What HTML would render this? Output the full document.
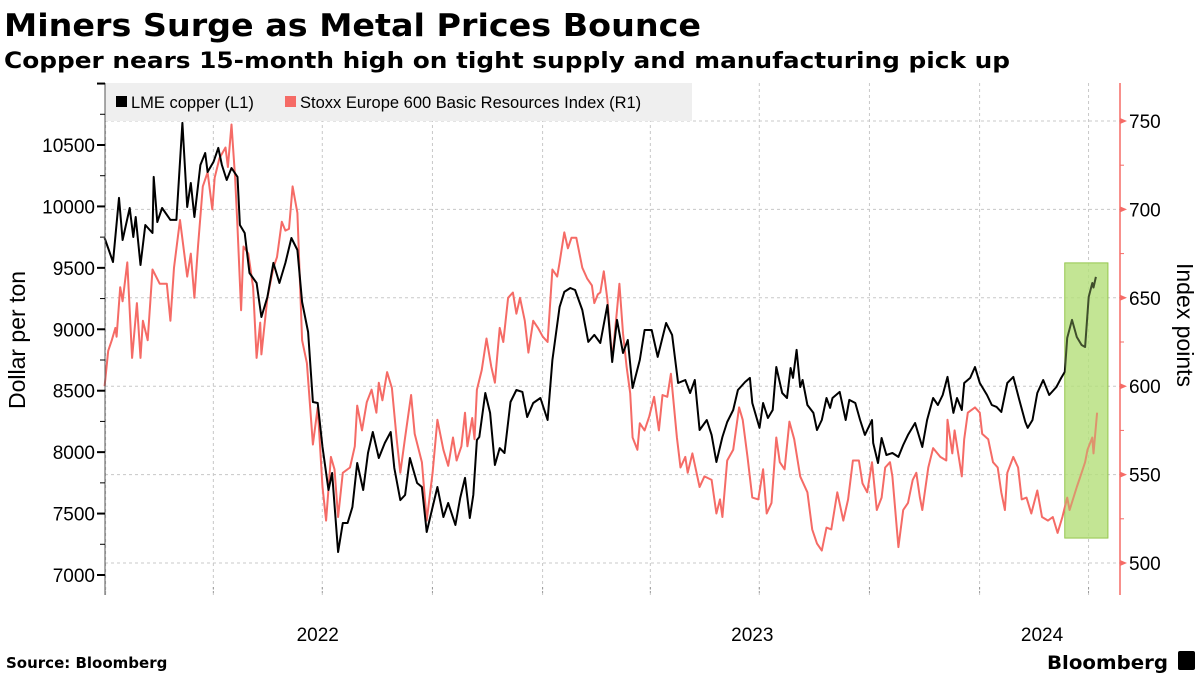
<!DOCTYPE html>
<html><head><meta charset="utf-8"><style>
body{margin:0;background:#fff;width:1200px;height:675px;overflow:hidden;font-family:"Liberation Sans",sans-serif}
</style></head><body>
<svg id="chart" width="1200" height="675" xmlns="http://www.w3.org/2000/svg">
<text x="4" y="36" font-family="DejaVu Sans" font-weight="bold" font-size="31" textLength="697" lengthAdjust="spacingAndGlyphs">Miners Surge as Metal Prices Bounce</text>
<text x="4" y="68" font-family="DejaVu Sans" font-weight="bold" font-size="22" textLength="1006" lengthAdjust="spacingAndGlyphs">Copper nears 15-month high on tight supply and manufacturing pick up</text>
<g id="grid"></g>
<rect x="105" y="83" width="587" height="38" fill="#efefef"/>
<g><rect x="116" y="96" width="11" height="11" fill="#000"/><text x="131" y="108" font-size="16.5">LME copper (L1)</text></g>
<g><rect x="285" y="96" width="11" height="11" fill="#f56b66"/><text x="300" y="108" font-size="16.5">Stoxx Europe 600 Basic Resources Index (R1)</text></g>
<g id="marks"></g>
<g id="axes"></g>
<text transform="translate(25,340) rotate(-90)" text-anchor="middle" font-size="23">Dollar per ton</text>
<text transform="translate(1177,325) rotate(90)" text-anchor="middle" font-size="23">Index points</text>
<text x="6" y="668" font-family="DejaVu Sans" font-weight="bold" font-size="15">Source: Bloomberg</text>
<text x="1047" y="669" font-family="DejaVu Sans" font-weight="bold" font-size="19" textLength="121" lengthAdjust="spacingAndGlyphs">Bloomberg</text>
<rect x="1178" y="651" width="17" height="19" rx="2" fill="#000"/>
</svg>
<script>
const copperDays=[3,10,15,18,24,27,29,33,37,43,44,47,51,58,63,68,72,75,78,83,87,89,94,98,101,105,109,114,116,120,124,130,134,139,144,149,154,159,164,168,173,177,181,185,190,193,198,202,206,
210,214,219,223,227,232,237,242,245,250,254,258,264,268,272,277,281,286,290,296,300,304,308,311,314,316,321,325,329,333,337,342,347,352,356,361,367,373,377,383,387,392,396,402,407,412,
417,423,427,431,436,440,444,450,454,460,465,472,477,482,488,492,496,500,506,510,514,519,523,528,532,538,542,544,550,553,557,561,564,569,573,576,578,581,584,586,590,595,598,602,606,609,
611,617,622,625,630,634,638,644,645,649,652,656,661,666,670,674,680,686,690,695,699,703,707,712,715,719,721,726,730,734,740,744,748,752,757,762,767,772,774,778,782,787,792,798,802,805,807,811,815,819,822,825,828,829,831];
const copperValues=[9743,9548,10069,9727,9987,9751,9914,9523,9849,9784,10240,9873,9987,9890,9890,10680,9995,10191,9914,10337,10435,10280,10362,10476,10337,10215,10313,10240,9849,9784,9458,9377,9100,9263,9540,9377,9540,9743,9645,9222,8978,8408,8400,8042,7692,7830,7187,7423,7423,
7553,7912,7692,7993,8164,7952,8074,8164,7871,7610,7651,7952,7749,7716,7350,7553,7716,7472,7586,7407,7627,7790,7464,7651,8099,8123,8481,8319,7895,8033,7993,8408,8506,8490,8286,8400,8441,8262,8750,9182,9304,9336,9320,9157,8897,8954,
8888,9198,8734,9076,8807,8913,8522,8750,8994,8994,8775,9051,8954,8563,8587,8481,8587,8180,8262,8140,7920,8123,8245,8343,8506,8571,8604,8400,8197,8400,8278,8343,8693,8481,8441,8685,8604,8832,8530,8587,8384,8319,8180,8262,8441,8360,
8441,8490,8262,8425,8400,8262,8140,8262,8074,7912,8115,7977,7993,7961,8058,8140,8237,8042,8262,8441,8384,8465,8612,8319,8441,8343,8563,8604,8693,8563,8465,8384,8368,8327,8563,8612,8425,8245,8197,8262,8481,8587,8465,8530,8604,8653,8929,9076,8937,8872,8856,9263,9377,9340,9426];
const stoxxDays=[3,6,9,12,13,16,18,22,26,30,33,35,39,43,49,55,58,61,66,72,75,78,81,85,89,93,95,99,104,106,109,112,114,117,119,123,127,130,133,134,139,144,147,151,154,157,160,164,168,172,177,181,185,188,192,195,198,202,208,
212,214,218,222,226,230,232,235,239,243,247,250,254,259,262,268,272,277,281,286,290,294,297,301,304,306,310,312,314,318,322,326,329,333,336,340,344,347,350,354,357,361,365,369,373,377,381,383,387,390,393,397,402,406,410,412,415,
417,420,423,427,431,433,436,439,442,444,448,450,454,458,462,466,469,473,476,481,484,488,490,494,500,504,510,514,517,519,523,528,533,536,540,544,549,553,556,560,564,567,571,575,579,584,590,594,598,602,606,610,615,
620,624,628,633,636,640,644,648,652,655,659,661,666,670,674,678,681,684,686,691,695,701,706,707,711,713,716,719,721,724,730,734,736,741,745,749,752,755,757,762,766,769,773,777,782,786,791,795,799,803,807,809,815,819,822,824,828,829,832];
const stoxxValues=[600,620,626,633,628,656,648,670,616,647,616,637,626,666,658,658,637,667,694,662,675,650,679,713,721,700,718,729,735,724,748,718,690,643,679,675,656,616,636,618,650,667,673,693,688,689,713,698,626,613,567,588,543,524,560,553,526,551,554,
566,589,575,591,598,585,602,592,608,599,570,551,571,595,573,557,524,551,581,564,555,571,558,566,585,566,582,570,598,609,627,611,602,633,625,650,653,641,650,637,619,637,633,628,625,666,662,670,687,678,684,684,667,661,657,647,652,
653,665,649,615,643,658,630,611,596,571,564,579,575,583,594,575,595,594,607,571,554,560,551,562,543,549,547,528,536,526,558,564,588,581,560,537,536,553,528,534,571,557,553,580,570,549,540,519,511,507,520,519,540,
524,536,558,558,545,540,557,530,537,554,557,549,509,530,534,547,551,537,530,554,565,560,558,581,562,575,562,549,570,585,588,585,573,570,557,554,540,530,551,560,554,536,537,528,541,526,524,526,517,526,537,530,543,551,557,564,571,562,585];
const leftTicks=[7000,7500,8000,8500,9000,9500,10000,10500];
const rightTicks=[500,550,600,650,700,750];
const quarterTickDays=[3,93,184,276,368,458,549,641,733,824];
const yearLabels=["2022","2023","2024"];
const yearLabelDays=[181,544,786];
const highlightDays=[805,841];
const highlightCopper=[7301,9540];

const NS="http://www.w3.org/2000/svg";
const X0=101,PXD=437/365,TOP=83,BOT=595,LX=105,RX=1120;
const xS=d=>X0+d*PXD;
const yL=v=>575-(v-7000)*61.43/500;
const yR=v=>563-(v-500)*1.768;
function mk(tag,attrs,parent){const e=document.createElementNS(NS,tag);for(const k in attrs)e.setAttribute(k,attrs[k]);parent.appendChild(e);return e;}
const grid=document.getElementById('grid'),marks=document.getElementById('marks'),axes=document.getElementById('axes');

rightTicks.forEach(v=>{const l=mk('line',{x1:LX,x2:RX,y1:yR(v),y2:yR(v),stroke:'#c8c8c8','stroke-dasharray':'3,3','stroke-width':1},grid);

});
quarterTickDays.forEach(d=>{const l=mk('line',{x1:xS(d)+1,x2:xS(d)+1,y1:TOP,y2:BOT,stroke:'#c8c8c8','stroke-dasharray':'3,3','stroke-width':1},grid);

});

const hb=mk('rect',{x:xS(highlightDays[0]),y:yL(highlightCopper[1]),width:xS(highlightDays[1])-xS(highlightDays[0]),height:yL(highlightCopper[0])-yL(highlightCopper[1]),fill:'#b5e07a','fill-opacity':0.7,stroke:'#8cbf3f','stroke-width':1},marks);



const sp=mk('polyline',{points:stoxxDays.map((d,i)=>xS(d).toFixed(1)+','+yR(stoxxValues[i]).toFixed(1)).join(' '),fill:'none',stroke:'#f56b66','stroke-width':2,'stroke-linejoin':'round'},marks);


const cp=mk('polyline',{points:copperDays.map((d,i)=>xS(d).toFixed(1)+','+yL(copperValues[i]).toFixed(1)).join(' '),fill:'none',stroke:'#000','stroke-width':2,'stroke-linejoin':'round'},marks);


const hb2=mk('rect',{x:xS(highlightDays[0]),y:yL(highlightCopper[1]),width:xS(highlightDays[1])-xS(highlightDays[0]),height:yL(highlightCopper[0])-yL(highlightCopper[1]),fill:'#b5e07a','fill-opacity':0.35},marks);



const la=mk('line',{x1:LX,x2:LX,y1:TOP,y2:BOT,stroke:'#555','stroke-width':1},axes);


for(let v=6750;v<=11000;v+=250){const y=yL(v);if(y<TOP||y>BOT)continue;const maj=v%500===0;
const t=mk('line',{x1:maj?97:100,x2:LX,y1:y,y2:y,stroke:'#000','stroke-width':maj?2:1},axes);

}
leftTicks.forEach(v=>{const t=mk('text',{x:95,y:yL(v)+7,'text-anchor':'end','font-size':19},axes);t.textContent=v;

});
const ra=mk('line',{x1:RX,x2:RX,y1:TOP,y2:BOT,stroke:'#f56b66','stroke-width':1.5},axes);


for(let v=475;v<=775;v+=25){const y=yR(v);if(y<TOP||y>BOT)continue;
if(v%50===0){const p=mk('polygon',{points:`${RX},${y-3} ${RX+7},${y} ${RX},${y+3}`,fill:'#f56b66'},axes);

}
else{const p=mk('line',{x1:RX,x2:RX+4,y1:y,y2:y,stroke:'#f56b66'},axes);

}}
rightTicks.forEach(v=>{const t=mk('text',{x:1129,y:yR(v)+7,'font-size':19},axes);t.textContent=v;

});
quarterTickDays.forEach(d=>{const t=mk('line',{x1:xS(d)+1,x2:xS(d)+1,y1:BOT-8,y2:BOT,stroke:'#999','stroke-dasharray':'2,2'},axes);

});
yearLabels.forEach((s,i)=>{const t=mk('text',{x:xS(yearLabelDays[i]),y:641,'text-anchor':'middle','font-size':19},axes);t.textContent=s;

});
</script>
</body></html>
